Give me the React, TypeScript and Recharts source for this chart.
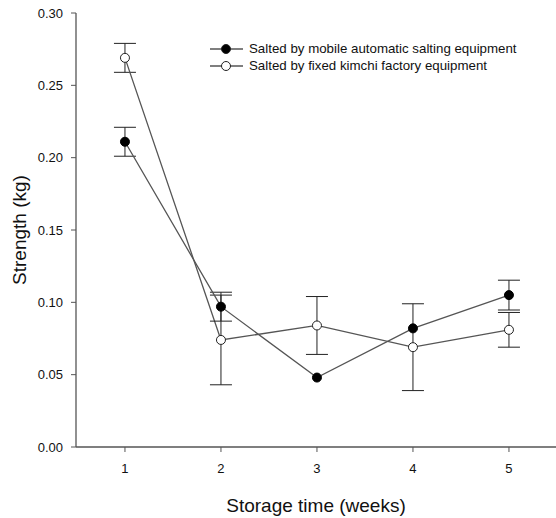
import {
  ComposedChart,
  Line,
  XAxis,
  YAxis,
  ErrorBar,
} from 'recharts';

const weeks = [1, 2, 3, 4, 5];
const mobile = [0.211, 0.097, 0.048, 0.082, 0.105];
const mobileErr = [0.01, 0.01, null, null, 0.0103];
const fixed = [0.269, 0.074, 0.084, 0.069, 0.081];
const fixedErr = [0.01, 0.031, 0.02, 0.03, 0.012];
const yTicks = [0, 0.05, 0.1, 0.15, 0.2, 0.25, 0.3];

const seriesNames = [
  'Salted by mobile automatic salting equipment',
  'Salted by fixed kimchi factory equipment',
];

const data = weeks.map((w, i) => ({
  week: w,
  mobile: mobile[i],
  mobileErr: mobileErr[i],
  fixed: fixed[i],
  fixedErr: fixedErr[i],
}));

const font = 'Arial, "Liberation Sans", sans-serif';
const lineColor = '#555';

function LegendBox() {
  return (
    <div
      style={{
        position: 'absolute',
        left: 209,
        top: 40,
        fontFamily: font,
        fontSize: 13.3,
        color: '#111',
      }}
    >
      {seriesNames.map((name, i) => (
        <div key={name} style={{ display: 'flex', alignItems: 'center', height: 17 }}>
          <svg width={40} height={12}>
            <line x1={1} y1={6} x2={34} y2={6} stroke={lineColor} strokeWidth={1.3} />
            <circle cx={17} cy={6} r={4.5} fill={i === 0 ? '#000' : '#fff'} stroke="#222" strokeWidth={1} />
          </svg>
          <span>{name}</span>
        </div>
      ))}
    </div>
  );
}

function YLabel(props: any) {
  const vb = props.viewBox;
  const cy = vb.y + vb.height / 2;
  return (
    <text
      x={19}
      y={cy}
      transform={`rotate(-90 19 ${cy})`}
      textAnchor="middle"
      dominantBaseline="central"
      fontSize={19}
      fontFamily={font}
      fill="#111"
    >
      Strength (kg)
    </text>
  );
}

export default function App() {
  return (
    <div style={{ position: 'absolute', left: 0, top: 0, width: 556, height: 518, background: '#fff' }}>
      <ComposedChart
        width={556}
        height={518}
        data={data}
        margin={{ top: 13, right: 0, bottom: 0, left: 0 }}
      >
        <XAxis
          dataKey="week"
          type="number"
          domain={[0.49, 5.49]}
          ticks={weeks}
          axisLine={{ stroke: lineColor, strokeWidth: 1.3 }}
          tickLine={{ stroke: lineColor }}
          tickSize={5}
          tickMargin={12}
          tick={{ fill: '#111', fontSize: 13, fontFamily: font }}
          height={71}
          label={{
            value: 'Storage time (weeks)',
            position: 'insideBottom',
            offset: 6,
            fill: '#111',
            fontSize: 19,
            fontFamily: font,
          }}
        />
        <YAxis
          type="number"
          domain={[0, 0.3]}
          ticks={yTicks}
          tickFormatter={(v: number) => v.toFixed(2)}
          axisLine={{ stroke: lineColor, strokeWidth: 1.3 }}
          tickLine={{ stroke: lineColor }}
          tickSize={5}
          tickMargin={8}
          tick={{ fill: '#111', fontSize: 13, fontFamily: font }}
          width={76}
          label={<YLabel />}
        />
        <Line
          dataKey="fixed"
          name={seriesNames[1]}
          stroke={lineColor}
          strokeWidth={1.3}
          dot={{ r: 4.5, fill: '#fff', stroke: '#222', strokeWidth: 1 }}
          isAnimationActive={false}
        >
          <ErrorBar dataKey="fixedErr" direction="y" width={11} stroke="#222" strokeWidth={1} />
        </Line>
        <Line
          dataKey="mobile"
          name={seriesNames[0]}
          stroke={lineColor}
          strokeWidth={1.3}
          dot={{ r: 4.5, fill: '#000', stroke: '#000', strokeWidth: 1 }}
          isAnimationActive={false}
        >
          <ErrorBar dataKey="mobileErr" direction="y" width={11} stroke="#222" strokeWidth={1} />
        </Line>
      </ComposedChart>
      <LegendBox />
    </div>
  );
}
